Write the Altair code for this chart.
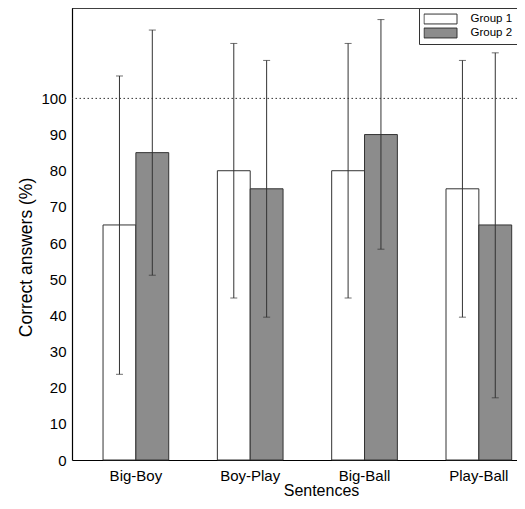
import altair as alt
import pandas as pd

sentences = ["Big-Boy", "Boy-Play", "Big-Ball", "Play-Ball"]
groups = ["Group 1", "Group 2"]
group1_mean = [65, 80, 80, 75]
group2_mean = [85, 75, 90, 65]
group1_low = [23.7, 44.8, 44.8, 39.5]
group1_high = [106.2, 115.2, 115.2, 110.5]
group2_low = [51.1, 39.5, 58.3, 17.2]
group2_high = [118.9, 110.5, 121.8, 112.6]
y_ticks = [0, 10, 20, 30, 40, 50, 60, 70, 80, 90, 100]
reference_line = [100]
y_max = [125]

rows = []
for i, s in enumerate(sentences):
    rows.append(dict(sentence=s, group=groups[0], mean=group1_mean[i], lo=group1_low[i], hi=group1_high[i]))
    rows.append(dict(sentence=s, group=groups[1], mean=group2_mean[i], lo=group2_low[i], hi=group2_high[i]))
df = pd.DataFrame(rows)

FONT = "Liberation Sans"

x_enc = alt.X(
    "sentence:N",
    sort=sentences,
    scale=alt.Scale(paddingInner=0.4254, paddingOuter=0.159, align=0.854, round=False),
    axis=alt.Axis(
        title="Sentences", labelAngle=0, labelPadding=8, ticks=False,
        titleX=249, titleY=35, titleBaseline="alphabetic", titleAlign="center",
        titleFontSize=16,
    ),
)
xo_enc = alt.XOffset("group:N", sort=groups, scale=alt.Scale(paddingInner=0, paddingOuter=0))
y_scale = alt.Scale(domain=[0, y_max[0]], nice=False, zero=True)

base = alt.Chart(df)

bars = base.mark_bar(stroke="#333333", strokeWidth=1).encode(
    x=x_enc,
    xOffset=xo_enc,
    y=alt.Y(
        "mean:Q",
        scale=y_scale,
        axis=alt.Axis(
            title="Correct answers (%)", values=y_ticks, ticks=False, labelPadding=6,
            titleX=-40.6, titleY=249, titleBaseline="alphabetic", titleAlign="center",
            titleFontSize=17.5,
        ),
    ),
    color=alt.Color(
        "group:N",
        sort=groups,
        scale=alt.Scale(domain=groups, range=["#ffffff", "#8c8c8c"]),
        legend=alt.Legend(
            title=None, orient="top-right", offset=0, fillColor="white",
            strokeColor="#333333", padding=4.5, labelFontSize=11.5, labelFont=FONT,
            labelColor="black", symbolType="M-1,-0.3H1V0.3H-1Z", symbolSize=1089,
            symbolStrokeColor="#333333", symbolStrokeWidth=1, clipHeight=13,
            rowPadding=1, labelOffset=13,
        ),
    ),
)

err = base.mark_rule(color="#333333", strokeWidth=1).encode(
    x=alt.X("sentence:N", sort=sentences),
    xOffset=alt.XOffset("group:N", sort=groups),
    y=alt.Y("lo:Q", scale=y_scale),
    y2="hi:Q",
)
cap_lo = base.mark_tick(color="#333333", thickness=1, size=7).encode(
    x=alt.X("sentence:N", sort=sentences),
    xOffset=alt.XOffset("group:N", sort=groups),
    y=alt.Y("lo:Q", scale=y_scale),
)
cap_hi = base.mark_tick(color="#333333", thickness=1, size=7).encode(
    x=alt.X("sentence:N", sort=sentences),
    xOffset=alt.XOffset("group:N", sort=groups),
    y=alt.Y("hi:Q", scale=y_scale),
)

ref = alt.Chart(pd.DataFrame({"v": reference_line})).mark_rule(
    color="#333333", strokeWidth=1, strokeDash=[1.5, 2.5]
).encode(y=alt.Y("v:Q", scale=y_scale))

top = alt.Chart(pd.DataFrame({"v": y_max})).mark_rule(
    color="black", strokeWidth=1.5
).encode(y=alt.Y("v:Q", scale=y_scale))

chart = alt.layer(bars, ref, err, cap_lo, cap_hi, top).properties(
    width=445, height=452,
    autosize=alt.AutoSizeParams(type="none"),
    padding={"left": 64, "top": 0, "right": 0, "bottom": 41},
).configure_view(stroke=None).configure_axis(
    domainColor="black", domainWidth=1.2, grid=False, labelFont=FONT, labelFontSize=15,
    labelColor="black", titleFont=FONT, titleFontWeight="normal", titleColor="black",
)

chart.save("out.html", embed_options={"renderer": "svg", "actions": False})
